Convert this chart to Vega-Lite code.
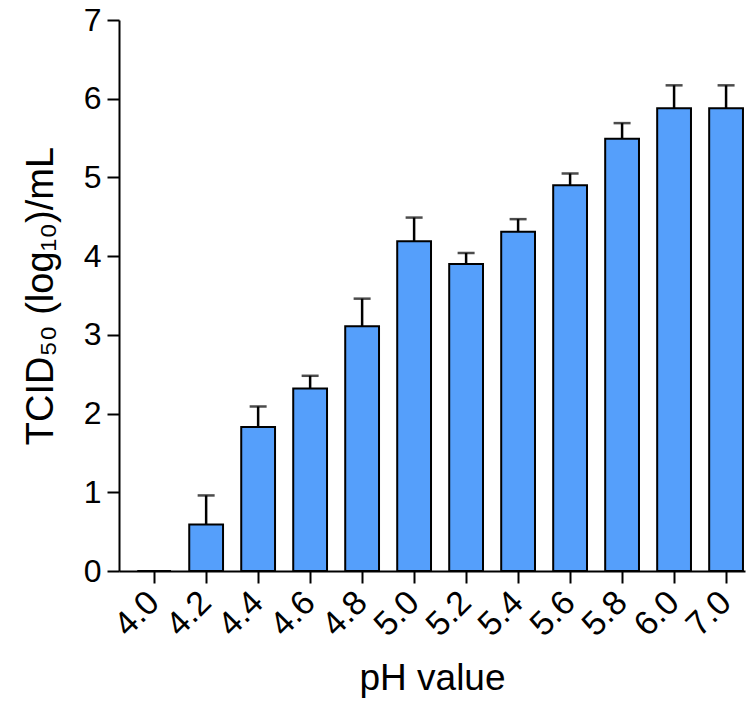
{
  "$schema": "https://vega.github.io/schema/vega-lite/v6.json",
  "width": 626,
  "height": 551,
  "autosize": "none",
  "padding": {"left": 119, "top": 20, "right": 1, "bottom": 130},
  "background": "white",
  "config": {
    "view": {"stroke": null},
    "font": "Liberation Sans"
  },
  "data": {
    "values": [
      {"ph": "4.0", "mean": 0, "upper": null},
      {"ph": "4.2", "mean": 0.59, "upper": 0.96},
      {"ph": "4.4", "mean": 1.83, "upper": 2.09},
      {"ph": "4.6", "mean": 2.32, "upper": 2.48},
      {"ph": "4.8", "mean": 3.11, "upper": 3.46},
      {"ph": "5.0", "mean": 4.19, "upper": 4.49},
      {"ph": "5.2", "mean": 3.90, "upper": 4.04},
      {"ph": "5.4", "mean": 4.31, "upper": 4.47},
      {"ph": "5.6", "mean": 4.90, "upper": 5.05},
      {"ph": "5.8", "mean": 5.49, "upper": 5.69},
      {"ph": "6.0", "mean": 5.88, "upper": 6.17},
      {"ph": "7.0", "mean": 5.88, "upper": 6.17}
    ]
  },
  "encoding": {
    "x": {
      "field": "ph",
      "type": "ordinal",
      "sort": null,
      "scale": {
        "domain": ["4.0", "4.2", "4.4", "4.6", "4.8", "5.0", "5.2", "5.4", "5.6", "5.8", "6.0", "7.0"],
        "paddingInner": 0.35, "paddingOuter": 0.195, "align": 0.9
      },
      "axis": {
        "title": "pH value",
        "titleFont": "Liberation Sans",
        "titleFontWeight": "normal",
        "titleFontSize": 37,
        "titleColor": "black",
        "titleBaseline": "alphabetic",
        "titleY": 118,
        "labelFont": "Liberation Sans",
        "labelFontSize": 34,
        "labelColor": "black",
        "labelAngle": -45,
        "labelAlign": "right",
        "labelBaseline": "middle",
        "labelPadding": 14,
        "labelDx": 9,
        "labelDy": 8,
        "domainColor": "black",
        "domainWidth": 2,
        "tickColor": "black",
        "tickWidth": 2,
        "tickSize": 12,
        "grid": false
      }
    },
    "y": {
      "field": "mean",
      "type": "quantitative",
      "scale": {"domain": [0, 7], "nice": false},
      "axis": {
        "title": "TCID₅₀ (log₁₀)/mL",
        "titleFont": "Liberation Sans",
        "titleFontWeight": "normal",
        "titleFontSize": 38,
        "titleColor": "black",
        "titleBaseline": "alphabetic",
        "titleX": -67,
        "values": [0, 1, 2, 3, 4, 5, 6, 7],
        "labelFont": "Liberation Sans",
        "labelFontSize": 32,
        "labelColor": "black",
        "labelPadding": 6,
        "domainColor": "black",
        "domainWidth": 2,
        "tickColor": "black",
        "tickWidth": 2,
        "tickSize": 12,
        "grid": false
      }
    }
  },
  "layer": [
    {
      "mark": {"type": "rule", "color": "black", "strokeWidth": 2.5},
      "transform": [{"filter": "datum.upper != null"}],
      "encoding": {
        "y2": {"field": "upper"}
      }
    },
    {
      "mark": {"type": "tick", "color": "black", "thickness": 2.5, "size": 17, "orient": "horizontal"},
      "transform": [{"filter": "datum.upper != null"}],
      "encoding": {
        "y": {"field": "upper", "type": "quantitative"}
      }
    },
    {
      "mark": {"type": "bar", "fill": "#559FFB", "stroke": "black", "strokeWidth": 2}
    }
  ]
}
